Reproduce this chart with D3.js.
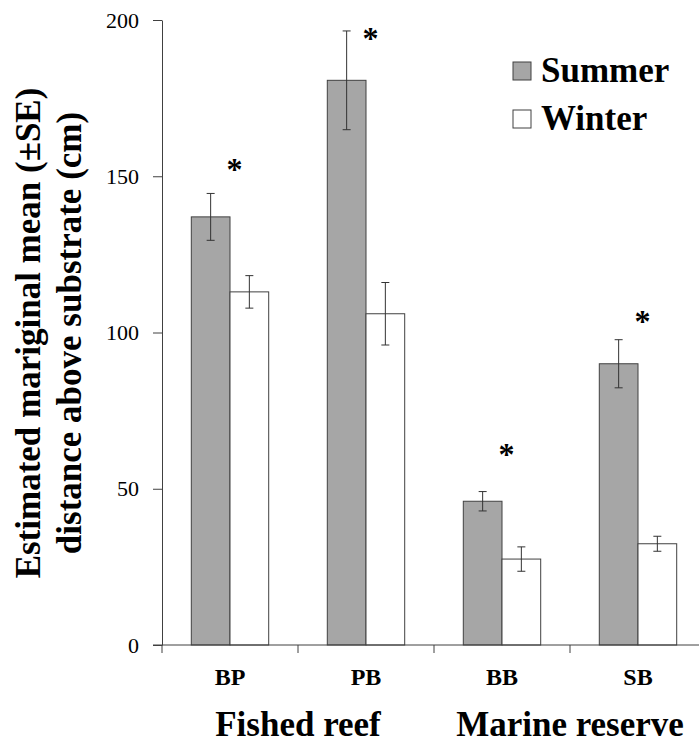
<!DOCTYPE html>
<html>
<head>
    <meta charset="utf-8">
    <title>Distance above substrate</title>
    <script src="https://cdn.jsdelivr.net/npm/d3@7"></script>
    <style>
        body { margin: 0; background: #fff; }
        svg { display: block; }
        svg text { font-family: 'Liberation Serif', 'Times New Roman', Times, 'DejaVu Serif', serif; }
    </style>
</head>
<body>
<script>
    // data
    const sites = ['BP', 'PB', 'BB', 'SB'];
    const seasons = ['Summer', 'Winter'];
    const summerMean = [137, 180.7, 46, 90];
    const summerSE = [7.5, 15.8, 3.1, 7.7];
    const winterMean = [113, 106, 27.5, 32.4];
    const winterSE = [5.2, 10, 3.9, 2.4];
    // height of the significance asterisk (axis units)
    const starAt = [153.5, 195.5, 62.3, 105];
    const yTicks = [0, 50, 100, 150, 200];
    const groups = [
        { name: 'Fished reef', from: 'BP', to: 'PB' },
        { name: 'Marine reserve', from: 'BB', to: 'SB' }
    ];

    const width = 699;
    const height = 744;
    const axisColor = '#404040';

    const svg = d3.select('body')
        .append('svg')
        .attr('width', width)
        .attr('height', height);

    const x = d3.scaleBand().domain(sites).range([162, 706]);
    const xInner = d3.scaleBand().domain(seasons).range([0, 77.4]);
    const y = d3.scaleLinear().domain([0, 200]).range([645, 20]);

    const rows = [];
    sites.forEach((s, i) => {
        rows.push({ site: s, season: 'Summer', mean: summerMean[i], se: summerSE[i] });
        rows.push({ site: s, season: 'Winter', mean: winterMean[i], se: winterSE[i] });
    });
    const groupLeft = s => x(s) + x.bandwidth() / 2 - xInner.range()[1] / 2;

    // bars
    svg.selectAll('rect.bar')
        .data(rows)
        .join('rect')
        .attr('class', 'bar')
        .attr('x', d => groupLeft(d.site) + xInner(d.season))
        .attr('y', d => y(d.mean))
        .attr('width', xInner.bandwidth())
        .attr('height', d => y(0) - y(d.mean))
        .attr('fill', d => d.season == 'Summer' ? '#a6a6a6' : '#ffffff')
        .attr('stroke', axisColor)
        .attr('stroke-width', 1);

    // error bars
    const err = svg.append('g')
        .attr('stroke', '#333')
        .attr('stroke-width', 1);
    rows.forEach(d => {
        const cx = groupLeft(d.site) + xInner(d.season) + xInner.bandwidth() / 2;
        err.append('line')
            .attr('x1', cx).attr('x2', cx)
            .attr('y1', y(d.mean + d.se)).attr('y2', y(d.mean - d.se));
        [d.mean + d.se, d.mean - d.se].forEach(v => {
            err.append('line')
                .attr('x1', cx - 4).attr('x2', cx + 4)
                .attr('y1', y(v)).attr('y2', y(v));
        });
    });

    // asterisks
    svg.selectAll('text.star')
        .data(sites)
        .join('text')
        .attr('class', 'star')
        .attr('x', s => x(s) + x.bandwidth() / 2 + 4.5)
        .attr('y', (s, i) => y(starAt[i]) + 15)
        .attr('text-anchor', 'middle')
        .attr('font-weight', 'bold')
        .attr('font-size', 32)
        .text('*');

    // y axis
    const yAxis = svg.append('g')
        .attr('transform', 'translate(162,0)')
        .call(d3.axisLeft(y).tickValues(yTicks).tickSize(9).tickSizeOuter(0).tickPadding(14));
    yAxis.attr('font-family', null).attr('font-size', null);
    yAxis.select('.domain').attr('stroke', axisColor);
    yAxis.selectAll('.tick line').attr('stroke', axisColor);
    yAxis.selectAll('.tick text')
        .attr('font-size', 22)
        .attr('fill', '#000');

    // x axis
    const xAxis = svg.append('g').attr('transform', 'translate(0,' + y(0) + ')');
    xAxis.append('line')
        .attr('x1', 153).attr('x2', width)
        .attr('stroke', axisColor);
    const bounds = sites.map(s => x(s));
    xAxis.selectAll('line.tick')
        .data(bounds)
        .join('line')
        .attr('class', 'tick')
        .attr('x1', d => d).attr('x2', d => d)
        .attr('y1', 0).attr('y2', 8)
        .attr('stroke', axisColor);
    xAxis.selectAll('text.site')
        .data(sites)
        .join('text')
        .attr('class', 'site')
        .attr('x', s => x(s) + x.bandwidth() / 2)
        .attr('y', 40)
        .attr('text-anchor', 'middle')
        .attr('font-weight', 'bold')
        .attr('font-size', 24)
        .text(s => s);

    svg.selectAll('text.group')
        .data(groups)
        .join('text')
        .attr('class', 'group')
        .attr('x', g => (x(g.from) + x(g.to) + x.bandwidth()) / 2)
        .attr('y', 736)
        .attr('text-anchor', 'middle')
        .attr('font-weight', 'bold')
        .attr('font-size', 35)
        .text(g => g.name);

    // y axis title
    const titleLines = ['Estimated mariginal mean (\u00b1SE)', 'distance above substrate (cm)'];
    svg.selectAll('text.ytitle')
        .data(titleLines)
        .join('text')
        .attr('class', 'ytitle')
        .attr('transform', (t, i) => 'translate(' + (40 + i * 41) + ',' + (y(100) + 0.5) + ') rotate(-90)')
        .attr('text-anchor', 'middle')
        .attr('font-weight', 'bold')
        .attr('font-size', 35)
        .text(t => t);

    // legend
    const legend = svg.append('g').attr('transform', 'translate(513,62)');
    seasons.forEach((s, i) => {
        legend.append('rect')
            .attr('x', 0).attr('y', i * 48)
            .attr('width', 18).attr('height', 18)
            .attr('fill', s == 'Summer' ? '#a6a6a6' : '#ffffff')
            .attr('stroke', axisColor);
        legend.append('text')
            .attr('x', 28).attr('y', i * 48 + 20)
            .attr('font-weight', 'bold')
            .attr('font-size', 35)
            .text(s);
    });
</script>
</body>
</html>
